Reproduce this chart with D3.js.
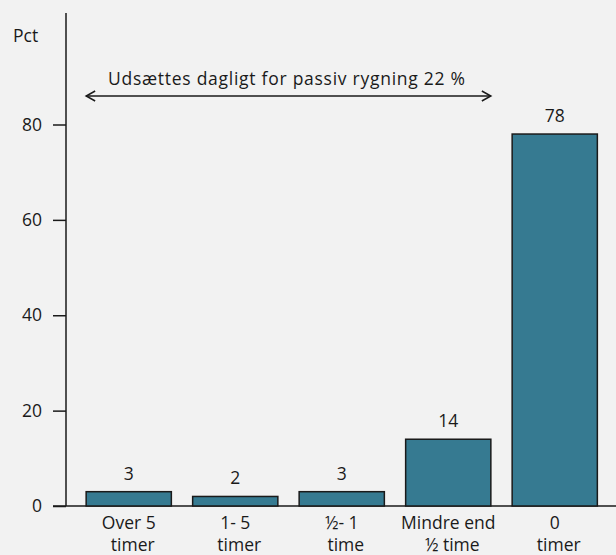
<!DOCTYPE html>
<html>
<head>
<meta charset="utf-8">
<script src="https://cdn.jsdelivr.net/npm/d3@7"></script>
<style>
  html, body { margin: 0; padding: 0; background: #f2f2f2; }
  svg { display: block; }
  text { font-family: "Open Sans", "DejaVu Sans", sans-serif; fill: #1a1a1a; }
</style>
</head>
<body>
<script>
// Daily exposure to passive smoking, share of respondents
const categories = [["Over 5", "timer"], ["1- 5", "timer"], ["½- 1", "time"], ["Mindre end", "½ time"], ["0", "timer"]];
const values = [3, 2, 3, 14, 78];
const yTicks = [0, 20, 40, 60, 80];
const yLabel = "Pct";
const spanLabel = "Udsættes dagligt for passiv rygning 22 %";
const spanCount = 4; // categories covered by the daily-exposure arrow

const W = 616, H = 555;
const FONT = "'Open Sans', 'DejaVu Sans', sans-serif";
const FS = 17.5;
const svg = d3.select("body").append("svg").attr("width", W).attr("height", H);

const x = d3.scaleBand()
  .domain(d3.range(categories.length))
  .range([75.5, 608])
  .paddingInner(0.2)
  .paddingOuter(0.1);

const y = d3.scaleLinear().domain([0, 80]).range([506, 124.5]);

// baseline across the full width
svg.append("line")
  .attr("x1", 53).attr("x2", W)
  .attr("y1", y(0)).attr("y2", y(0))
  .attr("stroke", "#1a1a1a").attr("stroke-width", 1.5);

// y axis
const yAxis = svg.append("g")
  .attr("transform", "translate(66,0)")
  .call(d3.axisLeft(y).tickValues(yTicks).tickSize(13).tickPadding(11).tickFormat(d3.format("d")));
yAxis.select(".domain").remove();
yAxis.selectAll(".tick line").attr("stroke", "#1a1a1a").attr("stroke-width", 1.5);
yAxis.selectAll(".tick text").attr("font-size", FS).attr("fill", "#1a1a1a")
  .attr("font-family", FONT);
svg.append("line")
  .attr("x1", 66).attr("x2", 66).attr("y1", 13).attr("y2", y(0))
  .attr("stroke", "#1a1a1a").attr("stroke-width", 1.5);

svg.append("text")
  .attr("x", 13).attr("y", 42)
  .attr("font-size", FS)
  .text(yLabel);

// bars
svg.selectAll("rect.bar")
  .data(values)
  .join("rect")
  .attr("class", "bar")
  .attr("x", (d, i) => x(i))
  .attr("width", x.bandwidth())
  .attr("y", d => y(d))
  .attr("height", d => y(0) - y(d))
  .attr("fill", "#367a91")
  .attr("stroke", "#1a1a1a")
  .attr("stroke-width", 1.5);

// value labels
svg.selectAll("text.val")
  .data(values)
  .join("text")
  .attr("class", "val")
  .attr("x", (d, i) => x(i) + x.bandwidth() / 2)
  .attr("y", d => y(d) - 12)
  .attr("text-anchor", "middle")
  .attr("font-size", FS)
  .text(d => d);

// category labels
const cat = svg.selectAll("text.cat")
  .data(categories)
  .join("text")
  .attr("class", "cat")
  .attr("text-anchor", "middle")
  .attr("font-size", FS);
cat.each(function (lines, i) {
  const t = d3.select(this);
  const cx = x(i) + x.bandwidth() / 2;
  lines.forEach((s, k) => {
    t.append("tspan").attr("x", cx + (k ? 4 : 0)).attr("y", 529 + k * 22).text(s);
  });
});

// double-headed arrow spanning the daily-exposure categories
const ax1 = x(0), ax2 = x(spanCount - 1) + x.bandwidth(), ay = 96;
svg.append("line")
  .attr("x1", ax1).attr("x2", ax2).attr("y1", ay).attr("y2", ay)
  .attr("stroke", "#1a1a1a").attr("stroke-width", 1.5);
svg.append("path")
  .attr("d", `M${ax1 + 9},${ay - 5}L${ax1},${ay}L${ax1 + 9},${ay + 5}M${ax2 - 9},${ay - 5}L${ax2},${ay}L${ax2 - 9},${ay + 5}`)
  .attr("fill", "none").attr("stroke", "#1a1a1a").attr("stroke-width", 1.5);
svg.append("text")
  .attr("x", (ax1 + ax2) / 2 - 2).attr("y", 85)
  .attr("text-anchor", "middle")
  .attr("font-size", FS)
  .attr("textLength", 357)
  .attr("lengthAdjust", "spacing")
  .text(spanLabel);
</script>
</body>
</html>
